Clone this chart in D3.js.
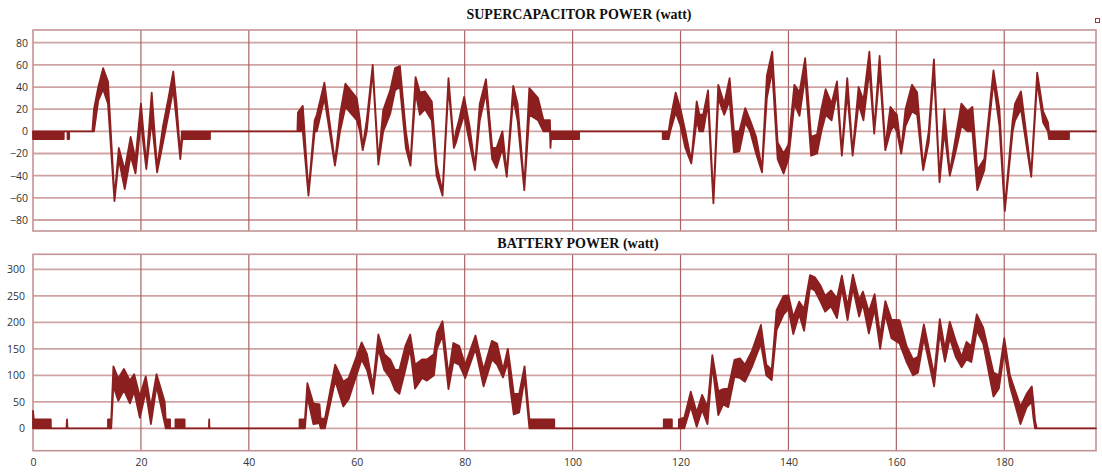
<!DOCTYPE html>
<html><head><meta charset="utf-8">
<script src="https://cdn.jsdelivr.net/npm/d3@7"></script>
<style>
html,body{margin:0;padding:0;background:#fff;}
svg{display:block;}
</style></head>
<body>
<svg id="chart" width="1102" height="472"></svg>
<script>
// ---------- DATA ----------
const superTitle = "SUPERCAPACITOR POWER (watt)";
const batteryTitle = "BATTERY POWER (watt)";
const xTicks = [0, 20, 40, 60, 80, 100, 120, 140, 160, 180];
const superTicks = [-80, -60, -40, -20, 0, 20, 40, 60, 80];
const batteryTicks = [0, 50, 100, 150, 200, 250, 300];

// supercapacitor power band: time, lower edge, upper edge
const superT = [0,5.7,5.7,6.4,6.4,6.7,6.7,11.0,11.3,12.1,13.0,13.9,15.1,15.9,17.0,18.1,19.0,20.0,21.0,22.0,23.0,24.1,25.1,26.0,26.6,27.3,27.6,27.7,32.3,32.3,32.6,32.6,32.8,32.8,
 49.0,49.1,50.0,51.05,52.2,52.6,54.0,55.96,56.9,57.9,60.0,60.6,61.1,61.85,62.96,64.0,64.9,66.2,67.1,68.0,69.1,69.96,70.9,71.7,72.65,73.9,74.8,75.9,77.0,78.0,78.4,78.95,79.9,80.9,81.9,82.8,83.95,85.1,85.9,87.0,87.8,89.0,89.8,91.05,91.98,93.6,94.6,95.8,95.9,96.0,101.2,101.2,
 116.7,116.7,117.8,118.1,119.1,120.0,120.9,122.0,123.0,123.5,124.2,125.1,126.1,127.0,128.1,129.1,129.9,130.9,132.0,132.9,134.0,135.1,136.0,137.0,138.0,139.1,140.0,141.1,142.05,143.1,144.2,145.3,146.1,146.9,148.0,149.0,149.9,150.9,151.9,153.0,153.9,155.0,155.9,156.9,157.95,158.9,159.5,160.1,160.9,161.7,162.9,163.85,164.97,166.0,166.96,168.0,168.9,169.9,171.0,172.05,173.2,174.1,175.0,176.3,178.0,179.1,180.1,181.55,182.0,183.1,185.0,186.1,187.2,188.1,188.3,192.0,192.0,197];
const superLo = [-7,-7,0,0,-7,-7,0,0,0,28,38,25,-63,-25,-52,-22,-38,8,-34,10,-37,-10,15,38,10,-25,-10,-7,-7,0,0,-7,-7,0,
 0,0,0,-58,0,0,30,-31,0,22,10,0,-17,0,55,-30,0,16,37,40,-15,-31,35,15,20,10,-40,-58,40,-15,-10,0,15,-10,-35,10,35,-25,-33,-15,-41,30,10,-53,15,10,0,0,-15,-7,-7,0,
 0,-7,-7,0,17,5,-15,-29,10,0,0,25,-65,30,15,28,-19,-18,8,0,-20,-37,30,55,-25,-38,-25,25,14,50,-22,-20,0,15,10,35,-22,35,-22,25,10,55,-2,55,-17,0,5,0,-20,5,18,15,-35,-10,55,-46,0,-40,-18,5,0,0,-53,-35,45,5,-72,0,10,20,-41,45,8,0,-7,-7,0,0];
const superHi = [0,0,0,0,0,0,0,0,20,40,57,45,-60,-15,-35,-5,-25,25,-30,35,-33,5,30,54,25,-22,0,0,0,0,0,0,0,0,
 0,17,23,-55,10,15,44,-28,15,43,30,10,-14,10,60,-27,19,37,57,59,0,-28,49,35,36,27,-30,-55,48,-12,0,10,31,5,-32,25,47,-15,-15,0,-38,41,25,-50,39,30,10,10,-12,0,0,0,
 0,0,0,10,35,20,0,-27,27,15,15,37,-62,42,25,48,0,0,21,10,-5,-34,50,72,-10,-20,-12,42,35,66,-5,-3,20,38,25,45,-19,48,-19,40,28,72,1,68,-14,22,18,15,-17,20,42,35,-32,0,65,-43,20,-37,-5,25,18,22,-35,-25,55,20,-69,10,25,36,-38,53,18,8,0,0,0,0];

// battery power band: time, lower edge, upper edge
const batT = [0,0.15,3.3,3.3,6.2,6.3,6.4,13.9,13.9,14.5,14.9,15.8,16.85,17.96,18.75,19.8,20.9,21.85,22.9,24.4,24.6,25.4,25.4,26.4,26.4,28.1,28.1,32.6,32.65,32.7,
 49.4,49.4,50.4,50.85,51.96,53.1,53.3,54.1,56.0,57.5,58.5,60.9,61.9,63.0,64.0,65.1,66.2,67.1,67.9,69.0,69.9,70.8,72.1,73.0,74.3,74.85,75.9,77.0,77.9,79.0,80.1,82.0,83.5,85.05,86.0,87.1,88.0,88.4,89.1,90.1,91.1,92.0,96.6,96.6,
 116.9,116.9,118.4,118.4,119.7,119.7,120.7,121.9,123.0,124.0,125.0,125.9,127.0,127.9,128.85,130.0,131.0,131.95,133.2,134.9,135.9,136.9,137.8,139.1,140.0,140.9,142.0,142.9,144.0,144.9,145.9,146.8,147.9,149.0,149.9,150.96,151.95,153.1,153.8,154.9,155.97,157.0,157.96,159.1,160.6,161.9,163.1,164.0,165.1,167.0,168.05,169.0,169.9,171.0,172.1,173.0,173.9,174.9,176.1,178.0,179.0,180.0,181.05,183.0,184.15,185.1,185.4,185.7,186.0,197];
const batLo = [0,0,0,0,0,0,0,0,0,0,80,52,72,47,70,20,70,8,80,10,0,0,0,0,0,0,0,0,0,0,
 0,0,0,60,8,10,0,0,90,41,55,130,110,65,150,110,95,72,65,110,150,75,95,90,100,150,175,74,125,120,95,150,79,130,120,96,125,80,26,30,95,0,0,0,
 0,0,0,0,0,0,0,41,3,35,8,120,25,45,40,97,95,88,115,160,100,91,185,215,225,178,215,184,265,260,240,220,230,208,265,204,265,211,235,179,225,150,215,170,160,125,100,105,170,79,180,126,170,135,115,130,125,185,160,60,75,145,80,8,40,50,20,0,0,0];
const batHi = [33,17,17,0,0,17,0,0,17,17,117,94,112,90,102,60,98,40,102,50,17,17,0,0,17,17,0,0,17,0,
 0,17,17,85,47,45,18,18,120,88,95,162,140,80,177,140,130,110,110,155,177,120,130,130,140,180,202,100,161,155,120,175,110,165,160,110,150,120,65,65,117,17,17,0,
 0,17,17,0,0,17,20,69,30,63,40,138,70,74,75,129,132,120,145,195,120,110,223,250,251,210,239,225,289,285,270,250,260,245,288,230,290,242,258,220,253,175,240,205,204,155,130,135,196,100,206,150,201,165,135,163,155,215,190,105,100,170,100,41,65,79,50,15,0,0];

// ---------- DRAW ----------
const svg = d3.select("#chart");
const fillCol = "#8c1f1f";
const gridH = "#cfa3a3";
const gridV = "#a86464";
const labelFont = "'Open Sans', sans-serif";

function panel(opts) {
  const x = d3.scaleLinear().domain([0, 197]).range([33, 1096]);
  const y = d3.scaleLinear().domain(opts.yDomain).range(opts.yRange);
  const top = opts.plotTop, bottom = opts.plotBottom;
  const g = svg.append("g");
  // horizontal grid
  g.append("g").selectAll("line").data(opts.ticks).join("line")
    .attr("x1", x(0)).attr("x2", x(197))
    .attr("y1", d => y(d)).attr("y2", d => y(d))
    .attr("stroke", gridH).attr("stroke-width", 1.8);
  // vertical grid
  g.append("g").selectAll("line").data(xTicks.filter(d => d > 0)).join("line")
    .attr("x1", d => x(d)).attr("x2", d => x(d))
    .attr("y1", top).attr("y2", bottom)
    .attr("stroke", gridV).attr("stroke-width", 1.2);
  // border
  g.append("rect")
    .attr("x", x(0)).attr("y", top)
    .attr("width", x(197) - x(0)).attr("height", bottom - top)
    .attr("fill", "none").attr("stroke", "#c49494").attr("stroke-width", 1.6);
  // band
  const data = opts.t.map((t, i) => ({t, lo: opts.lo[i], hi: opts.hi[i]}));
  const area = d3.area().x(d => x(d.t)).y0(d => y(d.lo)).y1(d => y(d.hi));
  g.append("path").datum(data).attr("d", area)
    .attr("fill", fillCol).attr("stroke", fillCol).attr("stroke-width", 1.8)
    .attr("stroke-linejoin", "round");
  // y axis labels
  const ya = d3.axisLeft(y).tickValues(opts.ticks).tickSize(0).tickPadding(opts.pad);
  const yg = g.append("g").attr("transform", `translate(${x(0)},0)`).call(ya);
  yg.select(".domain").remove();
  yg.selectAll("text").attr("font-family", labelFont).attr("font-size", 10.5).attr("fill", "#333");
  // title
  svg.append("text").attr("x", opts.titleX).attr("y", opts.titleY)
    .attr("text-anchor", "middle")
    .attr("font-family", "'Liberation Serif', 'Times New Roman', serif")
    .attr("font-weight", "bold").attr("font-size", 14).attr("fill", "#111")
    .text(opts.title);
  return x;
}

panel({yDomain: [-80, 80], yRange: [220, 42.7], plotTop: 30, plotBottom: 231, ticks: superTicks,
  t: superT, lo: superLo, hi: superHi, title: superTitle, titleX: 579, titleY: 19, pad: 5});
const xb = panel({yDomain: [0, 300], yRange: [428.3, 269.3], plotTop: 254.3, plotBottom: 450.7, ticks: batteryTicks,
  t: batT, lo: batLo, hi: batHi, title: batteryTitle, titleX: 578, titleY: 248, pad: 8});

// x axis labels (bottom)
const xa = d3.axisBottom(xb).tickValues(xTicks).tickSize(0).tickPadding(4);
const xg = svg.append("g").attr("transform", "translate(0,455)").call(xa);
xg.select(".domain").remove();
xg.selectAll("text").attr("font-family", labelFont).attr("font-size", 10.5).attr("fill", "#333");

// small marker top-right
svg.append("rect").attr("x", 1095.5).attr("y", 18.5).attr("width", 4).attr("height", 4)
  .attr("fill", "#fff").attr("stroke", "#a33").attr("stroke-width", 1);
</script>
</body></html>
